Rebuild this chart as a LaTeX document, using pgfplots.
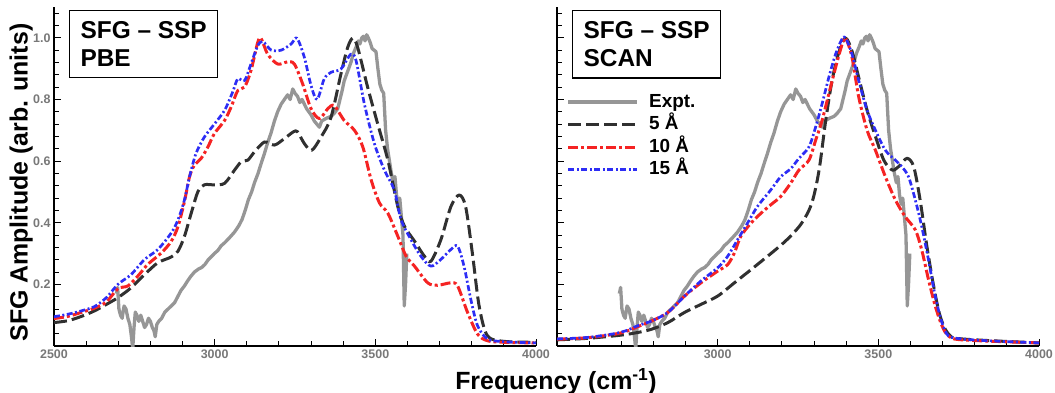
\documentclass[border=0pt]{standalone}
\usepackage{pgfplots}
\pgfplotsset{compat=1.18}
\usepackage{pgfplotstable}
\usepackage{fontspec}
\setmainfont{Liberation Sans}

\definecolor{exptgray}{RGB}{150,150,150}
\definecolor{fivek}{RGB}{48,48,48}
\definecolor{tenr}{RGB}{245,35,35}
\definecolor{fifb}{RGB}{45,45,245}
\definecolor{tickgray}{RGB}{120,120,120}

% Experiment (shared)
\pgfplotstableread{
x y
2694 0.17
2698 0.19
2702 0.12
2707 0.10
2712 0.09
2718 0.13
2724 0.12
2730 0.09
2736 0.07
2741 0.03
2745 -0.01
2749 0.06
2753 0.11
2758 0.10
2764 0.08
2770 0.10
2776 0.08
2782 0.06
2788 0.07
2794 0.09
2800 0.08
2806 0.06
2811 0.05
2815 0.03
2820 0.07
2826 0.08
2835 0.09
2845 0.11
2855 0.12
2865 0.13
2875 0.14
2885 0.16
2895 0.18
2906 0.195
2915 0.21
2925 0.225
2937 0.24
2950 0.25
2960 0.255
2970 0.265
2980 0.28
2990 0.29
2999 0.30
3010 0.31
3020 0.325
3031 0.335
3045 0.35
3062 0.37
3075 0.39
3085 0.41
3095 0.44
3105 0.475
3115 0.50
3124 0.53
3135 0.56
3144 0.59
3155 0.625
3165 0.66
3175 0.69
3186 0.73
3196 0.76
3207 0.785
3217 0.80
3227 0.815
3235 0.80
3243 0.834
3250 0.82
3258 0.81
3265 0.79
3272 0.80
3279 0.785
3286 0.77
3293 0.76
3300 0.75
3310 0.73
3318 0.72
3326 0.71
3333 0.73
3341 0.735
3350 0.74
3362 0.745
3372 0.755
3383 0.77
3390 0.80
3397 0.83
3403 0.86
3410 0.88
3417 0.90
3424 0.92
3432 0.95
3440 0.97
3447 0.99
3452 0.98
3458 1.00
3463 1.005
3468 0.99
3473 1.01
3478 1.00
3484 0.985
3490 0.965
3496 0.96
3502 0.955
3508 0.90
3514 0.85
3520 0.83
3526 0.82
3532 0.70
3538 0.64
3544 0.60
3550 0.56
3556 0.53
3561 0.55
3566 0.49
3571 0.46
3576 0.48
3581 0.42
3586 0.36
3590 0.13
3594 0.20
3598 0.30
}\expt

% PBE
\pgfplotstableread{
x y
2500 0.076
2543 0.082
2585 0.096
2626 0.114
2663 0.135
2699 0.157
2740 0.189
2782 0.232
2823 0.270
2865 0.289
2886 0.308
2906 0.356
2927 0.431
2948 0.501
2968 0.523
2999 0.523
3031 0.528
3062 0.571
3083 0.598
3103 0.603
3124 0.630
3155 0.662
3186 0.652
3217 0.673
3245 0.695
3258 0.695
3279 0.657
3302 0.635
3331 0.678
3362 0.742
3393 0.883
3414 0.969
3430 0.999
3445 0.969
3476 0.840
3507 0.722
3539 0.603
3570 0.452
3591 0.388
3622 0.340
3653 0.291
3673 0.275
3704 0.345
3735 0.452
3761 0.490
3781 0.452
3802 0.301
3823 0.130
3849 0.033
3901 0.015
4000 0.012
}\pbeA
\pgfplotstableread{
x y
2500 0.089
2543 0.096
2585 0.109
2626 0.123
2663 0.143
2699 0.186
2730 0.195
2761 0.227
2792 0.265
2834 0.302
2865 0.340
2886 0.388
2906 0.469
2922 0.550
2937 0.587
2958 0.609
2979 0.646
2999 0.689
3031 0.732
3051 0.775
3072 0.829
3093 0.840
3113 0.894
3134 0.985
3144 0.999
3165 0.947
3196 0.915
3227 0.922
3248 0.915
3274 0.850
3300 0.770
3326 0.738
3352 0.770
3372 0.780
3403 0.732
3435 0.700
3461 0.646
3487 0.539
3513 0.464
3539 0.431
3570 0.356
3596 0.291
3622 0.259
3663 0.205
3694 0.197
3735 0.205
3756 0.195
3787 0.109
3818 0.039
3849 0.017
3901 0.012
4000 0.010
}\pbeB
\pgfplotstableread{
x y
2500 0.095
2543 0.103
2585 0.114
2626 0.128
2663 0.157
2699 0.200
2740 0.232
2782 0.281
2823 0.313
2865 0.367
2886 0.410
2906 0.474
2922 0.550
2942 0.625
2968 0.678
2999 0.720
3031 0.765
3056 0.824
3072 0.867
3093 0.861
3113 0.915
3134 0.974
3150 0.988
3176 0.960
3207 0.960
3238 0.980
3256 0.999
3279 0.937
3300 0.845
3319 0.800
3341 0.867
3362 0.888
3393 0.899
3424 0.947
3440 0.926
3466 0.785
3497 0.657
3528 0.571
3559 0.506
3580 0.410
3611 0.345
3642 0.291
3673 0.259
3704 0.281
3735 0.313
3756 0.324
3776 0.259
3797 0.152
3818 0.066
3849 0.023
3901 0.014
4000 0.010
}\pbeC

% SCAN
\pgfplotstableread{
x y
2500 0.020
2597 0.025
2697 0.035
2752 0.044
2796 0.055
2845 0.076
2897 0.109
2948 0.135
3000 0.162
3052 0.205
3104 0.248
3155 0.291
3200 0.330
3230 0.360
3259 0.395
3284 0.440
3300 0.490
3317 0.580
3336 0.730
3356 0.861
3377 0.953
3398 0.999
3418 0.957
3439 0.871
3465 0.765
3491 0.680
3517 0.603
3543 0.571
3563 0.582
3589 0.609
3610 0.582
3630 0.474
3651 0.324
3672 0.195
3692 0.098
3718 0.039
3760 0.023
4000 0.010
}\scanA
\pgfplotstableread{
x y
2500 0.022
2597 0.027
2697 0.042
2752 0.063
2796 0.082
2845 0.109
2897 0.162
2948 0.205
3000 0.243
3031 0.264
3052 0.302
3072 0.356
3104 0.399
3135 0.431
3165 0.458
3196 0.485
3227 0.528
3253 0.571
3284 0.603
3305 0.668
3325 0.732
3346 0.818
3367 0.904
3387 0.978
3398 0.999
3418 0.937
3439 0.808
3465 0.700
3491 0.635
3522 0.549
3553 0.474
3584 0.419
3615 0.377
3635 0.312
3656 0.216
3677 0.130
3698 0.066
3718 0.033
3760 0.020
4000 0.010
}\scanB
\pgfplotstableread{
x y
2500 0.023
2597 0.028
2697 0.044
2752 0.066
2796 0.082
2845 0.109
2897 0.162
2948 0.211
3000 0.254
3031 0.291
3062 0.345
3093 0.399
3124 0.453
3165 0.506
3196 0.549
3227 0.575
3253 0.609
3284 0.646
3305 0.711
3325 0.786
3346 0.872
3367 0.947
3387 0.996
3398 1.000
3418 0.947
3439 0.861
3465 0.765
3491 0.700
3522 0.635
3553 0.603
3573 0.582
3594 0.549
3615 0.474
3635 0.388
3656 0.280
3677 0.162
3698 0.076
3718 0.033
3760 0.023
3842 0.017
4000 0.010
}\scanC

\pgfplotsset{
  panel/.style={
    scale only axis, width=482bp, height=339bp,
    xmin=2500, xmax=4000, ymin=0, ymax=1.1,
    axis x line*=bottom, axis y line*=left,
    axis line style={line width=1.3bp,-},
    xtick={2500,3000,3500,4000},
    minor xtick={2600,2700,2800,2900,3100,3200,3300,3400,3600,3700,3800,3900},
    ytick={0.2,0.4,0.6,0.8,1.0},
    minor ytick={0.04,0.08,0.12,0.16,0.24,0.28,0.32,0.36,0.44,0.48,0.52,0.56,0.64,0.68,0.72,0.76,0.84,0.88,0.92,0.96,1.04,1.08},
    tick align=inside, major tick length=7bp, minor tick length=5bp,
    tick style={line width=1bp, black},
    minor tick style={line width=1bp, black},
    ticklabel style={font=\bfseries\fontsize{12.5}{12.5}\selectfont, text=tickgray},
    /pgf/number format/assume math mode=true,
    xticklabel style={/pgf/number format/1000 sep={}},
    yticklabels={0.2,0.4,0.6,0.8,1.0},
    every axis plot/.append style={line join=round, line cap=butt},
    legend image code/.code={\draw[#1] (0bp,0bp) -- (69bp,0bp);},
  },
  exptst/.style={color=exptgray, line width=3.3bp},
  fivest/.style={color=fivek, line width=3bp, dash pattern=on 13bp off 5bp, smooth},
  tenst/.style={color=tenr, line width=3bp, dash pattern=on 10bp off 3bp on 3bp off 3bp, smooth},
  fifst/.style={color=fifb, line width=2.7bp, dash pattern=on 6bp off 2.5bp on 2bp off 2.5bp, smooth},
}

\begin{document}
\begin{tikzpicture}
\begin{axis}[panel, name=left,
  ylabel={SFG Amplitude (arb. units)},
  ylabel style={font=\bfseries\fontsize{25}{25}\selectfont, at={(axis description cs:-0.0436,0.482)}, anchor=south, inner sep=0pt},
]
\addplot[exptst] table {\expt};
\addplot[fivest] table {\pbeA};
\addplot[tenst] table {\pbeB};
\addplot[fifst] table {\pbeC};
\node[draw, line width=1.3bp, anchor=north west, align=left, inner xsep=11bp, inner ysep=11bp,
  font=\bfseries\fontsize{24.5}{28}\selectfont] at (rel axis cs:0.031,0.991) {SFG – SSP\\PBE};
\end{axis}
\begin{axis}[panel, name=right, at={(503bp,0)}, anchor=south west,
  yticklabels={},
  xticklabels={,3000,3500,4000},
  legend style={at={(rel axis cs:0.02,0.752)}, anchor=north west, draw=none, fill=none,
    inner sep=0pt, font=\bfseries\fontsize{19}{19}\selectfont,
    nodes={text height=15bp, text depth=4.5bp, inner sep=1bp}, row sep=1bp,
    /tikz/column 1/.style={column sep=9bp}},
  legend cell align=left,
]
\addplot[exptst] table {\expt};
\addlegendentry{Expt.}
\addplot[fivest] table {\scanA};
\addlegendentry{5 Å}
\addplot[tenst] table {\scanB};
\addlegendentry{10 Å}
\addplot[fifst] table {\scanC};
\addlegendentry{15 Å}
\node[draw, line width=1.3bp, anchor=north west, align=left, inner xsep=11bp, inner ysep=11bp,
  font=\bfseries\fontsize{24.5}{28}\selectfont] at (rel axis cs:0.031,0.991) {SFG – SSP\\SCAN};
\end{axis}
\node[font=\bfseries\fontsize{25}{25}\selectfont, anchor=base] at (502bp,-43bp) {Frequency (cm\textsuperscript{-1})};
\pgfresetboundingbox
\useasboundingbox (-54bp,-47bp) rectangle (1001bp,346bp);
\end{tikzpicture}
\end{document}
